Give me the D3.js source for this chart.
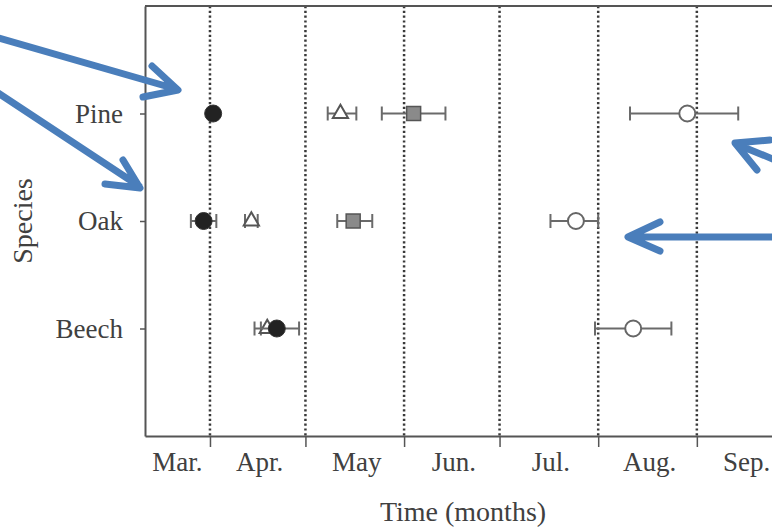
<!DOCTYPE html>
<html>
<head>
<meta charset="utf-8">
<script src="https://cdn.jsdelivr.net/npm/d3@7"></script>
<style>
  html, body { margin: 0; padding: 0; background: #fff; }
  svg { display: block; }
  text { font-family: "Liberation Serif", "Times New Roman", serif; fill: #404040; }
</style>
</head>
<body>
<svg id="chart" width="772" height="527"></svg>
<script>
// ---------------- data ----------------
const species = ["Pine", "Oak", "Beech"];

const monthLabels = ["Mar.", "Apr.", "May", "Jun.", "Jul.", "Aug.", "Sep."];
const monthStarts = ["2011-04-01", "2011-05-01", "2011-06-01", "2011-07-01", "2011-08-01", "2011-09-01", "2011-10-01"];

// each stage: [mean, low, high] per species (Pine, Oak, Beech)
const stageTriangle = [
  ["2011-05-12", "2011-05-08", "2011-05-17"],
  ["2011-04-14", "2011-04-12", "2011-04-16"],
  ["2011-04-19", "2011-04-17", "2011-04-21"]
];
const stageSquare = [
  ["2011-06-04", "2011-05-25", "2011-06-14"],
  ["2011-05-16", "2011-05-11", "2011-05-22"],
  null
];
const stageOpenCircle = [
  ["2011-08-29", "2011-08-11", "2011-09-14"],
  ["2011-07-25", "2011-07-17", "2011-08-01"],
  ["2011-08-12", "2011-07-31", "2011-08-24"]
];
const stageBlackCircle = [
  ["2011-04-02", "2011-04-01", "2011-04-03"],
  ["2011-03-30", "2011-03-26", "2011-04-03"],
  ["2011-04-22", "2011-04-15", "2011-04-29"]
];

// ---------------- layout ----------------
const svg = d3.select("#chart");
const mLeft = 145, mTop = 6, mBottom = 436, mRight = 800;
const parse = d3.utcParse("%Y-%m-%d");

const x = d3.scaleUtc()
  .domain([new Date(Date.UTC(2011, 2, 11, 14)), new Date(Date.UTC(2011, 9, 3, 10))])
  .range([mLeft, mRight]);
const y = d3.scalePoint().domain(species).range([mTop, mBottom]).padding(1);

const ink = "#555";

// dotted month separators
const starts = monthStarts.map(parse);
svg.append("g").selectAll("line").data(starts).join("line")
  .attr("x1", d => x(d)).attr("x2", d => x(d))
  .attr("y1", mTop).attr("y2", mBottom)
  .attr("stroke", "#3a3a3a").attr("stroke-width", 2.5)
  .attr("stroke-dasharray", "2.2,2.6");

// frame: top line
svg.append("line").attr("x1", mLeft).attr("x2", mRight).attr("y1", mTop).attr("y2", mTop)
  .attr("stroke", ink).attr("stroke-width", 2);

// x axis
const xAxis = svg.append("g").attr("transform", `translate(0,${mBottom})`)
  .call(d3.axisBottom(x).tickValues(starts).tickFormat("").tickSize(11).tickSizeOuter(0));
xAxis.select(".domain").attr("stroke", ink).attr("stroke-width", 2);
xAxis.selectAll(".tick line").attr("stroke", ink).attr("stroke-width", 1.5);

// month labels centred on visible part of each month
const bounds = [x.domain()[0], ...starts];
svg.append("g").selectAll("text").data(monthLabels).join("text")
  .attr("x", (d, i) => (Math.max(x(bounds[i]), mLeft) + Math.min(x(bounds[i + 1]), mRight)) / 2 + (i === 0 ? 0 : 2))
  .attr("y", 471)
  .attr("text-anchor", "middle")
  .attr("font-size", 27)
  .text(d => d);

// y axis
const yAxis = svg.append("g").attr("transform", `translate(${mLeft},0)`)
  .call(d3.axisLeft(y).tickSize(5).tickPadding(17).tickSizeOuter(0));
yAxis.select(".domain").attr("stroke", ink).attr("stroke-width", 2);
yAxis.selectAll(".tick line").attr("stroke", ink).attr("stroke-width", 1.5);
yAxis.selectAll(".tick text").attr("font-size", 27).attr("fill", "#404040")
  .style("font-family", "'Liberation Serif', serif");

// axis titles
svg.append("text").attr("x", 463).attr("y", 521).attr("text-anchor", "middle")
  .attr("font-size", 28).text("Time (months)");
svg.append("text").attr("transform", `translate(32,${y("Oak")}) rotate(-90)`)
  .attr("text-anchor", "middle").attr("font-size", 28).text("Species");

// ---------------- marks ----------------
function errorBars(data) {
  const rows = data.map((d, i) => d && { sp: species[i], m: parse(d[0]), lo: parse(d[1]), hi: parse(d[2]) }).filter(Boolean);
  const g = svg.append("g").attr("stroke", "#6a6a6a").attr("stroke-width", 2);
  rows.forEach(r => {
    const yy = y(r.sp);
    g.append("line").attr("x1", x(r.lo)).attr("x2", x(r.hi)).attr("y1", yy).attr("y2", yy);
    g.append("line").attr("x1", x(r.lo)).attr("x2", x(r.lo)).attr("y1", yy - 7).attr("y2", yy + 7);
    g.append("line").attr("x1", x(r.hi)).attr("x2", x(r.hi)).attr("y1", yy - 7).attr("y2", yy + 7);
  });
  return rows;
}

// triangles
const triRows = errorBars(stageTriangle);
svg.append("g").selectAll("path").data(triRows).join("path")
  .attr("d", d3.symbol(d3.symbolTriangle, 100))
  .attr("transform", d => `translate(${x(d.m)},${y(d.sp)})`)
  .attr("fill", "#fff").attr("stroke", "#555").attr("stroke-width", 2);

// squares
const sqRows = errorBars(stageSquare);
svg.append("g").selectAll("rect").data(sqRows).join("rect")
  .attr("x", d => x(d.m) - 7).attr("y", d => y(d.sp) - 7)
  .attr("width", 14).attr("height", 14)
  .attr("fill", "#8a8a8a").attr("stroke", "#555").attr("stroke-width", 1.5);

// open circles
const ocRows = errorBars(stageOpenCircle);
svg.append("g").selectAll("circle").data(ocRows).join("circle")
  .attr("cx", d => x(d.m)).attr("cy", d => y(d.sp)).attr("r", 8)
  .attr("fill", "#fff").attr("stroke", "#666").attr("stroke-width", 2);

// black circles
const bcRows = errorBars(stageBlackCircle);
svg.append("g").selectAll("circle").data(bcRows).join("circle")
  .attr("cx", d => x(d.m)).attr("cy", d => y(d.sp)).attr("r", 8.5)
  .attr("fill", "#222").attr("stroke", "#333").attr("stroke-width", 1);

// ---------------- annotation arrows ----------------
const blue = "#4a7ebb";
const arrows = [
  "M-5,37 L176,89 M152,66 L178,90 L143,97",
  "M-5,91 L139,186 M123,160 L140,188 L105,184",
  "M790,166 L736,144 M770,140 L735,143 L757,170",
  "M790,237 L630,237 M660,222 L628,237 L660,251"
];
svg.append("g").selectAll("path").data(arrows).join("path")
  .attr("d", d => d).attr("fill", "none").attr("stroke", blue)
  .attr("stroke-width", 7).attr("stroke-linecap", "round").attr("stroke-linejoin", "round");
</script>
</body>
</html>
